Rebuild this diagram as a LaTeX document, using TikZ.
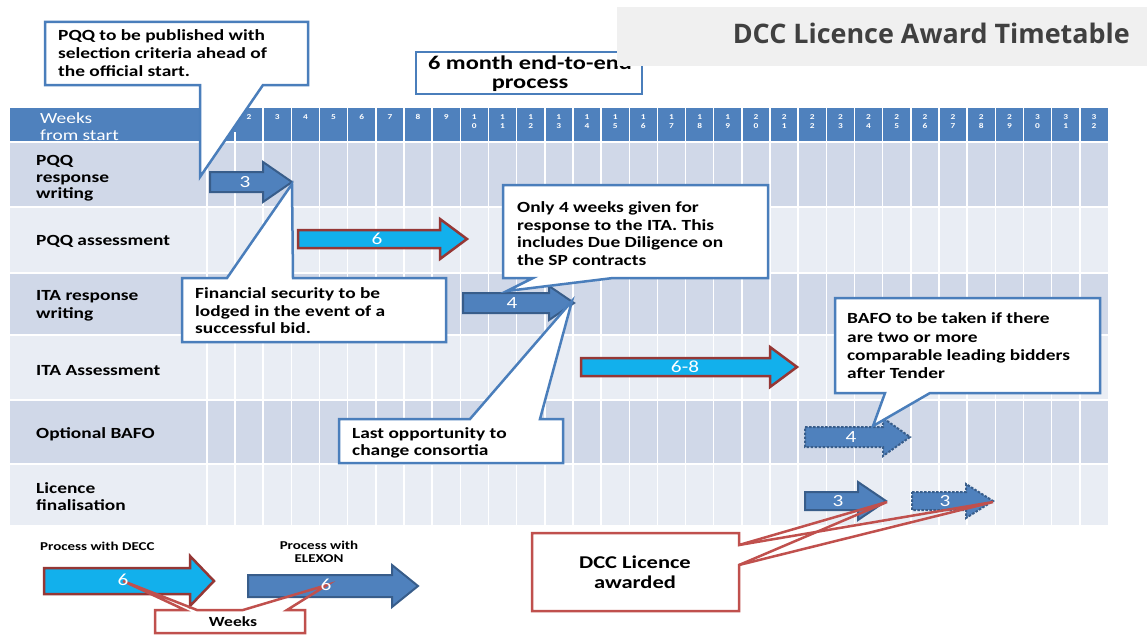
\documentclass[tikz,border=0pt]{standalone}
\usepackage{fontspec}
\setmainfont{Carlito}[FakeStretch=1.25]
\newfontfamily\titlefont{Open Sans}
\definecolor{hdr}{HTML}{4F81BD}
\definecolor{rowd}{HTML}{D0D8E8}
\definecolor{rowl}{HTML}{E9EDF4}
\definecolor{dkb}{HTML}{4F81BD}
\definecolor{dkbd}{HTML}{385D8A}
\definecolor{ltb}{HTML}{12B0EC}
\definecolor{redb}{HTML}{953735}
\definecolor{callb}{HTML}{4A7EBB}
\definecolor{callr}{HTML}{C0504D}
\definecolor{titlebg}{HTML}{F0F0F0}
\definecolor{titletx}{HTML}{404040}
\tikzset{
 darr/.style={fill=dkb, draw=dkbd, line width=2pt, line join=miter},
 larr/.style={fill=ltb, draw=redb, line width=2.5pt, line join=miter},
 dsharr/.style={fill=dkb, draw=dkbd, line width=2pt, dash pattern=on 2.5pt off 1.5pt},
 albl/.style={text=white, font=\fontsize{17}{17}\selectfont, inner sep=0},
 cbox/.style={fill=white, draw=callb, line width=2.5pt, line join=miter},
 rline/.style={draw=callr, line width=2.5pt, line join=miter},
 ctext/.style={anchor=base west, inner sep=0, font=\fontsize{15.5}{18}\selectfont\bfseries},
 rlbl/.style={anchor=base west, inner sep=0, font=\fontsize{15.5}{18}\selectfont\bfseries},
 hlbl/.style={anchor=base west, inner sep=0, text=white, font=\fontsize{15.5}{18}\selectfont},
 hnum/.style={text=white, inner sep=0, font=\fontsize{7.5}{8}\selectfont\bfseries},
 gridline/.style={white, line width=1.5pt},
}
\newcommand\blockarrow[7]{%
 \path[#1] (#2,#5-#6) -- (#3,#5-#6) -- (#3,#5-#7) -- (#4,#5) -- (#3,#5+#7) -- (#3,#5+#6) -- (#2,#5+#6) -- cycle;}
\begin{document}
\begin{tikzpicture}[x=1pt,y=-1pt]
\useasboundingbox (0,0) rectangle (1147,634);
\fill[white] (0,0) rectangle (1147,634);
% table
\fill[hdr] (10,108) rectangle (1108,142);
\foreach \ya/\yb/\c in {142/207/rowd,207/273/rowl,273/335/rowd,335/400/rowl,400/464/rowd,464/525/rowl}
  \fill[\c] (10,\ya) rectangle (1108,\yb);
\foreach \y in {142,207,273,335,400,464} \draw[white,line width=2.5pt] (10,\y) -- (1108,\y);
\draw[gridline] (207,143) -- (207,525);
\draw[gridline] (235,132) -- (235,525);
\foreach \k in {1,...,30} \draw[gridline] ({235+28.16*\k},108) -- ({235+28.16*\k},525);
\foreach \n in {2,...,9} \node[hnum] (hn\n) at ({235+28.16*(\n-2)+14.08},117) {\n};
\foreach \n in {10,...,32}{
  \pgfmathtruncatemacro\ta{floor(\n/10)}
  \pgfmathtruncatemacro\tb{\n-10*\ta}
  \node[hnum] (hnt\n) at ({235+28.16*(\n-2)+14.08},117) {\ta};
  \node[hnum] (hno\n) at ({235+28.16*(\n-2)+14.08},126) {\tb};
}
\node[hlbl] (wk1) at (40,123) {Weeks};
\node[hlbl] (wk2) at (40,140) {from start};
% row labels
\node[rlbl] (r1a) at (36,165) {PQQ};
\node[rlbl] (r1b) at (36,182) {response};
\node[rlbl] (r1c) at (36,198) {writing};
\node[rlbl] (r2) at (36,245) {PQQ assessment};
\node[rlbl] (r3a) at (36,300) {ITA response};
\node[rlbl] (r3b) at (36,318) {writing};
\node[rlbl] (r4) at (36,375) {ITA Assessment};
\node[rlbl] (r5) at (36,438) {Optional BAFO};
\node[rlbl] (r6a) at (36,493) {Licence};
\node[rlbl] (r6b) at (36,510) {finalisation};
% arrows
\blockarrow{darr}{210}{263}{292}{182}{10}{20}
\node[albl] (a1) at (245,182) {3};
\blockarrow{larr}{298}{440}{467}{239}{9}{20}
\node[albl] (a2) at (377,239) {6};
\blockarrow{darr}{463}{549}{574}{303}{10}{17}
\node[albl] (a3) at (512,303) {4};
\blockarrow{larr}{581}{770}{797}{367}{9}{20}
\node[albl] (a4) at (685,367) {6-8};
\blockarrow{dsharr}{805}{883}{910}{437}{10}{19}
\node[albl] (a5) at (851,437) {4};
\blockarrow{darr}{805}{858}{886}{501}{9}{19}
\node[albl] (a6) at (838,501) {3};
\blockarrow{dsharr}{912}{966}{993}{501}{9}{17}
\node[albl] (a7) at (945,501) {3};
% legend
\node[anchor=base west, inner sep=0, font=\fontsize{12}{14}\selectfont\bfseries] (lg1) at (40,550) {Process with DECC};
\node[anchor=base, inner sep=0, font=\fontsize{12}{14}\selectfont\bfseries] (lg2) at (319,549) {Process with};
\node[anchor=base, inner sep=0, font=\fontsize{12}{14}\selectfont\bfseries] (lg3) at (319,562) {ELEXON};
\blockarrow{larr}{44}{190}{214}{581}{13}{25}
\blockarrow{darr}{248}{392}{418}{586}{11}{21}
% blue callouts
\path[cbox] (45,22) -- (308,22) -- (308,85) -- (263,85) -- (200,177) -- (200,85) -- (45,85) -- cycle;
\node[ctext] (pa1) at (58,41) {PQQ to be published with};
\node[ctext] (pa2) at (58,59) {selection criteria ahead of};
\node[ctext] (pa3) at (58,77) {the official start.};
\path[cbox] (182,278) -- (227,278) -- (292,184) -- (293,278) -- (446,278) -- (446,342) -- (182,342) -- cycle;
\node[ctext] (fs1) at (195,298) {Financial security to be};
\node[ctext] (fs2) at (195,316) {lodged in the event of a};
\node[ctext] (fs3) at (195,333) {successful bid.};
\path[cbox] (503,185) -- (768,185) -- (768,278) -- (613,278) -- (507,291) -- (533,278) -- (503,278) -- cycle;
\node[ctext] (ow1) at (517,212) {Only 4 weeks given for};
\node[ctext] (ow2) at (517,230) {response to the ITA. This};
\node[ctext] (ow3) at (517,247) {includes Due Diligence on};
\node[ctext] (ow4) at (517,265) {the SP contracts};
\path[cbox] (339,419) -- (470,419) -- (572,301) -- (540,419) -- (563,419) -- (563,463) -- (339,463) -- cycle;
\node[ctext] (lo1) at (352,438) {Last opportunity to};
\node[ctext] (lo2) at (352,455) {change consortia};
\path[cbox] (835,298) -- (1100,298) -- (1100,393) -- (930,393) -- (873,426) -- (885,393) -- (835,393) -- cycle;
\node[ctext] (bf1) at (847,323) {BAFO to be taken if there};
\node[ctext] (bf2) at (847,342) {are two or more};
\node[ctext] (bf3) at (847,360) {comparable leading bidders};
\node[ctext] (bf4) at (847,378) {after Tender};
% red callouts
\fill[white] (155,610) rectangle (305,633);
\path[rline] (155,610) -- (185,610) -- (123,581) -- (197,610) -- (243,610) -- (327,585) -- (287,610) -- (305,610) -- (305,633) -- (155,633) -- cycle;
\node[albl] (a8) at (123,580) {6};
\node[albl] (a9) at (326,585) {6};
\node[anchor=base, inner sep=0, font=\fontsize{14}{16}\selectfont\bfseries] (wks) at (233,626) {Weeks};
\fill[white] (532,533) rectangle (739,611);
\path[rline] (532,533) -- (739,533) -- (739,545) -- (887,502) -- (739,565) -- (739,611) -- (532,611) -- cycle;
\path[rline] (739,545) -- (993,502) -- (739,565);
\node[anchor=base, inner sep=0, font=\fontsize{18}{20}\selectfont\bfseries] (dl1) at (635,568) {DCC Licence};
\node[anchor=base, inner sep=0, font=\fontsize{18}{20}\selectfont\bfseries] (dl2) at (635,588) {awarded};
% six month box
\path[cbox] (416,52) rectangle (642,94);
\node[anchor=base, inner sep=0, font=\fontsize{19.5}{20}\selectfont\bfseries] (sm1) at (530,69) {6 month end-to-end};
\node[anchor=base, inner sep=0, font=\fontsize{19.5}{20}\selectfont\bfseries] (sm2) at (530,88) {process};
% title
\fill[titlebg] (617,7) rectangle (1147,66);
\node[anchor=base east, inner sep=0, text=titletx] (title) at (1130,44) {\resizebox{397pt}{!}{\titlefont\bfseries DCC Licence Award Timetable}};
\end{tikzpicture}
\end{document}
